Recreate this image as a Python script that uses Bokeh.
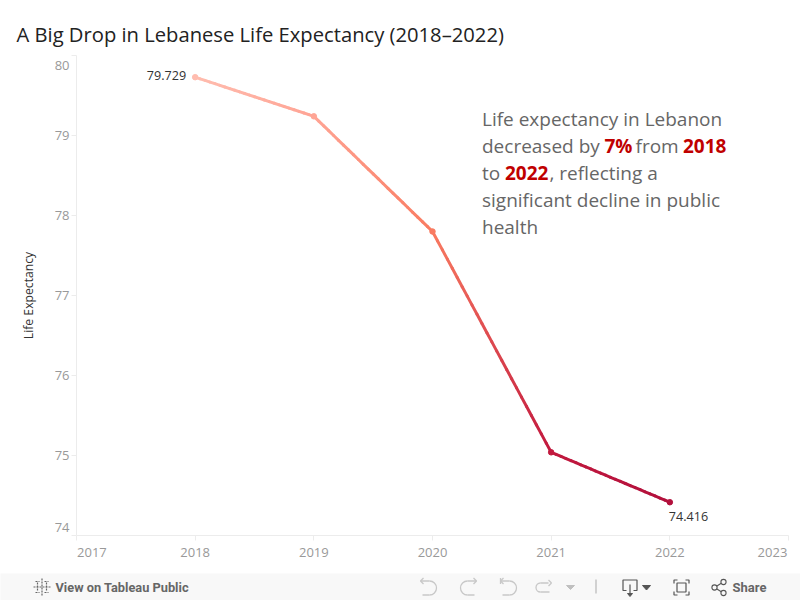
import numpy as np
from bokeh.plotting import figure
from bokeh.layouts import column
from bokeh.models import Label, FixedTicker, Range1d, Title, LinearAxis
from bokeh.core.properties import value
from bokeh.embed import file_html
from bokeh.resources import INLINE

FONT = "Open Sans"
TITLE = "A Big Drop in Lebanese Life Expectancy (2018\u20132022)"
Y_TITLE = "Life Expectancy"
years = [2018, 2019, 2020, 2021, 2022]
life_expectancy = [79.729, 79.24, 77.80, 75.04, 74.416]
x_ticks = [2017, 2018, 2019, 2020, 2021, 2022, 2023]
y_ticks = [74, 75, 76, 77, 78, 79, 80]
x_tick_labels = {2017.13: "2017", 2018: "2018", 2019: "2019", 2020: "2020", 2021: "2021", 2022: "2022", 2022.865: "2023"}
y_tick_labels = {74.1: "74", 75: "75", 76: "76", 77: "77", 78: "78", 79: "79", 79.875: "80"}
stop_values = [74.416, 75.04, 77.80, 79.24, 79.729]
stop_rgb = [(178, 16, 60), (194, 25, 62), (249, 123, 97), (255, 165, 149), (255, 188, 175)]
GREY, RED = "#666666", "#c00000"
TICK_GREY = "#999999"


def shade(v):
    return "#%02x%02x%02x" % tuple(int(round(np.interp(v, stop_values, [c[i] for c in stop_rgb]))) for i in range(3))


p = figure(width=800, height=573, frame_width=712, frame_height=480,
           x_range=Range1d(2017, 2023), y_range=Range1d(74, 80),
           output_backend="svg", toolbar_location=None,
           min_border_left=76, min_border_right=12, min_border_top=55, min_border_bottom=38,
           outline_line_color=None, background_fill_color="white")
p.title = Title(text=TITLE, text_font=FONT, text_font_size="20.2px", text_font_style="normal",
                text_color="#222222", offset=-60, standoff=16)
p.grid.visible = False

# colour follows the value along each straight segment
for i in range(4):
    n = 24
    xs = np.linspace(years[i], years[i + 1], n + 1)
    ys = np.linspace(life_expectancy[i], life_expectancy[i + 1], n + 1)
    p.segment(xs[:-1], ys[:-1], xs[1:], ys[1:], line_width=3, line_cap="round",
              line_color=[shade((ys[j] + ys[j + 1]) / 2) for j in range(n)])
p.scatter(years, life_expectancy, size=5.5, color=[shade(v) for v in life_expectancy])

AX = "#ececec"
# inner axes: line and tick marks at the true values
for ax, ticks in ((p.xaxis[0], x_ticks), (p.yaxis[0], y_ticks)):
    ax.ticker = FixedTicker(ticks=ticks)
    ax.axis_line_color = AX
    ax.major_tick_line_color = AX
    ax.major_tick_out = 5
    ax.major_tick_in = 0
    ax.minor_tick_line_color = None
    ax.major_label_overrides = {t: "" for t in ticks}
    ax.major_label_text_font_size = "1px"
    ax.major_label_standoff = 0

# outer axes: only the labels, the end ones held inside the frame as in the reference
for side, labels in (("below", x_tick_labels), ("left", y_tick_labels)):
    a = LinearAxis(ticker=FixedTicker(ticks=list(labels)), major_label_overrides=labels,
                   axis_line_color=None, major_tick_line_color=None, minor_tick_line_color=None,
                   major_tick_out=0, major_tick_in=0,
                   major_label_text_font=FONT, major_label_text_font_size="13px",
                   major_label_text_color=TICK_GREY,
                   major_label_standoff=7 if side == "below" else 2,
                   major_label_orientation="horizontal")
    p.add_layout(a, side)
    if side == "left":
        a.axis_label = Y_TITLE
        a.axis_label_text_font = FONT
        a.axis_label_text_font_size = "12.2px"
        a.axis_label_text_font_style = "normal"
        a.axis_label_text_color = "#333333"
        a.axis_label_standoff = 15


def lab(x, y, t, color, size, align="left", bl="middle", style="normal", xo=0, yo=0):
    p.add_layout(Label(x=x, y=y, text=t, text_color=color, text_font=FONT, text_font_size=size,
                       text_align=align, text_baseline=bl, text_font_style=style,
                       x_offset=xo, y_offset=yo))


lab(years[0], life_expectancy[0], f"{life_expectancy[0]:.3f}", "#333333", "12.6px", align="right", xo=-9, yo=2)
lab(years[-1], life_expectancy[-1], f"{life_expectancy[-1]:.3f}", "#333333", "12.6px", xo=-1, yo=-14)


# annotation, placed on the data scale: 118.67 px per year, 80 px per unit
def note(px, py, t, color=GREY, style="normal"):
    lab(2017 + (px - 76) / 118.67, 80 - (py - 55) / 80, t, color, "19px", style=style)


note(481.5, 118, "Life expectancy in Lebanon")
note(481.5, 145, "decreased by")
note(604, 145, "7%", RED, "bold")
note(635, 145, "from")
note(682.5, 145, "2018", RED, "bold")
note(481.5, 172, "to")
note(504.5, 172, "2022", RED, "bold")
note(549, 172, ", reflecting a")
note(481.5, 199, "significant decline in public")
note(481.5, 226, "health")

# footer bar, in pixel-like coordinates
f = figure(width=800, height=27, x_range=Range1d(0, 800), y_range=Range1d(27, 0),
           output_backend="svg", toolbar_location=None, min_border=0,
           outline_line_color=None, background_fill_color="#f8f8f8", border_fill_color="#f8f8f8")
f.axis.visible = False
f.grid.visible = False
f.text([55], [14], ["View on Tableau Public"], text_font=value("Roboto"), text_font_size="12.8px",
       text_color="#666666", text_baseline="middle", text_font_style="bold")
f.text([732], [14], ["Share"], text_font=value("Roboto"), text_font_size="13px",
       text_color="#666666", text_baseline="middle", text_font_style="bold")

# tableau mark
f.multi_line([[41.5, 41.5], [33, 50], [37, 37], [46, 46], [35, 39], [44, 48], [35, 39], [44, 48]],
             [[5, 22], [13.5, 13.5], [9, 18], [9, 18], [8, 8], [8, 8], [19, 19], [19, 19]],
             line_color="#666666", line_width=1.2, line_dash="2 1")

light = "#c8c8c8"
for cx, flip in ((428, 1), (468, -1), (508, 1)):
    f.multi_line([[cx - flip * 8, cx + flip * 1], [cx + flip * 1, cx - flip * 6],
                  [cx - flip * 8, cx - flip * 5], [cx - flip * 8, cx - flip * 5]],
                 [[7.5, 7.5], [21.5, 21.5], [7.5, 4.5], [7.5, 10.5]], line_color=light, line_width=1.3)
    f.arc([cx + flip * 1], [14.5], radius=7, start_angle=np.pi / 2, end_angle=-np.pi / 2,
          direction="clock" if flip == 1 else "anticlock", line_color=light, line_width=1.3)
f.line([500, 500], [4.5, 10.5], line_color=light, line_width=1.3)
f.multi_line([[540, 548], [540, 549], [548, 551], [548, 551]], [[9.5, 9.5], [18.5, 18.5], [6.5, 9.5], [12.5, 9.5]],
             line_color=light, line_width=1.3)
f.arc([540], [14], radius=4.5, start_angle=np.pi / 2, end_angle=-np.pi / 2, direction="anticlock",
      line_color=light, line_width=1.3)
f.patch([566, 574, 570], [12, 12, 16], color="#c0c0c0")
f.line([595.5, 595.5], [6, 20], line_color="#aaaaaa", line_width=1)
# download
f.multi_line([[626, 622.5, 622.5, 636.5, 636.5, 633], [629.5, 629.5]], [[17, 17, 6.5, 6.5, 17, 17], [11, 21]],
             line_color="#555555", line_width=1.2)
f.patch([627, 632, 629.5], [20, 20, 23], color="#555555")
f.patch([642, 650, 646], [12, 12, 16.5], color="#555555")
# fullscreen
f.multi_line([[673.5, 673.5, 677], [685, 688.5, 688.5], [673.5, 673.5, 677], [685, 688.5, 688.5]],
             [[10, 6.5, 6.5], [6.5, 6.5, 10], [18, 21.5, 21.5], [21.5, 21.5, 18]],
             line_color="#555555", line_width=1.2)
f.quad(left=[676.5], right=[685.5], top=[9.5], bottom=[18.5], fill_color=None, line_color="#555555", line_width=1.2)
# share
f.multi_line([[714, 722], [714, 722]], [[14, 9], [14, 19]], line_color="#555555", line_width=1.1)
f.circle([714, 723, 723], [14, 8.5, 19.5], radius=2.6, fill_color="#f8f8f8", line_color="#555555", line_width=1.1)

p.frame_align = False
f.frame_align = False
page = column(p, f, spacing=0)
open("out.html", "w").write(file_html(page, INLINE))
